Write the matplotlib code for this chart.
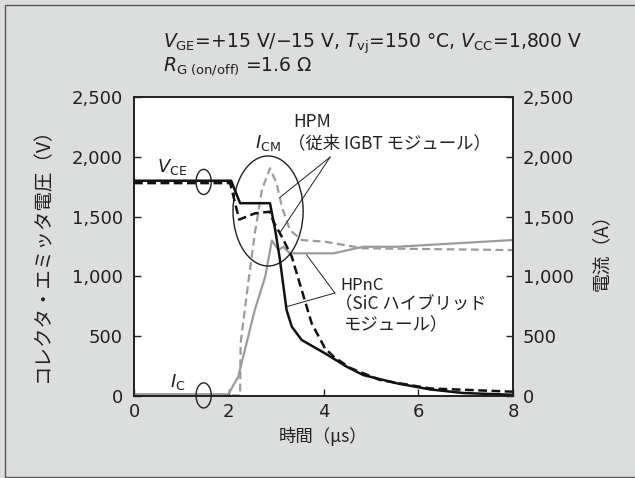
import numpy as np
import matplotlib
matplotlib.use('Agg')
import matplotlib.pyplot as plt
from matplotlib.patches import Ellipse, Arc, Rectangle
from matplotlib.ticker import FuncFormatter

plt.rcParams['font.family'] = ['DejaVu Sans', 'Noto Sans CJK JP']
plt.rcParams['mathtext.fontset'] = 'dejavusans'

# ── data ──────────────────────────────────────────────────────────
# V_CE, HPnC (SiC hybrid) - solid black
t_vce_hpnc = [0, 2.05, 2.24, 2.87, 2.98, 3.08, 3.22, 3.33, 3.54, 4.03, 4.49, 4.84, 5.55, 6.25, 6.95, 8.0]
vce_hpnc = [1800, 1800, 1612, 1612, 1390, 1140, 720, 580, 468, 357, 245, 175, 106, 55, 25, 10]
# V_CE, HPM (conventional IGBT) - dashed black
t_vce_hpm = [0, 2.03, 2.22, 2.55, 2.87, 2.94, 3.12, 3.33, 3.54, 3.75, 4.03, 4.21, 4.56, 5.19, 6.25, 8.0]
vce_hpm = [1780, 1780, 1475, 1527, 1541, 1460, 1332, 1165, 886, 608, 400, 330, 235, 134, 63, 36]
# I_C, HPnC - solid gray
t_ic_hpnc = [0, 1.99, 2.20, 2.34, 2.55, 2.77, 2.91, 3.05, 3.15, 3.29, 4.21, 4.84, 5.55, 8.0]
ic_hpnc = [15, 15, 161, 385, 719, 998, 1300, 1220, 1248, 1193, 1193, 1248, 1248, 1304]
# I_C, HPM - dashed gray
t_ic_hpm = [0, 2.24, 2.25, 2.41, 2.55, 2.70, 2.87, 3.01, 3.12, 3.29, 3.54, 4.03, 4.84, 8.0]
ic_hpm = [5, 5, 440, 942, 1360, 1722, 1904, 1778, 1583, 1388, 1304, 1290, 1235, 1220]

x_ticks = [0, 2, 4, 6, 8]
y_ticks = [0, 500, 1000, 1500, 2000, 2500]

BG = '#dcdddd'
TXT = '#231f20'
GRAY = '#9b9b9b'

fig = plt.figure(figsize=(6.35, 4.78), dpi=100, facecolor=BG)
fig.patches.append(Rectangle((5 / 635, 1 / 478), 1.0, 472 / 478, transform=fig.transFigure,
                             fill=False, edgecolor='#555555', linewidth=1.0))

ax2 = fig.add_axes([134 / 635, 82 / 478, 379 / 635, 299 / 478])
ax = ax2.twinx()
ax2.set_zorder(1)
ax.set_zorder(2)
ax.patch.set_visible(False)
ax2.set_facecolor('white')

ax2.plot(t_ic_hpnc, ic_hpnc, color=GRAY, lw=1.6, solid_joinstyle='round')
ax2.plot(t_ic_hpm, ic_hpm, color=GRAY, lw=1.6, dashes=(3.5, 2.0))
ax.plot(t_vce_hpnc, vce_hpnc, color='#111111', lw=1.8, solid_joinstyle='round')
ax.plot(t_vce_hpm, vce_hpm, color='#111111', lw=1.8, dashes=(3.5, 1.8))

fmt = FuncFormatter(lambda v, p: f'{int(v):,}')
for a in (ax, ax2):
    a.set_xlim(0, 8)
    a.set_ylim(0, 2500)
    a.set_yticks(y_ticks)
    a.yaxis.set_major_formatter(fmt)
    for s in a.spines.values():
        s.set_linewidth(1.2)
        s.set_color('#231f20')
ax2.set_xticks(x_ticks)
ax2.tick_params(axis='x', direction='in', length=5, width=1, pad=5, labelsize=13, colors=TXT)
ax2.tick_params(axis='y', direction='in', length=5, width=1, pad=7, labelsize=13, colors=TXT,
                left=False, labelleft=False, right=True, labelright=True)
ax.tick_params(axis='y', direction='in', length=5, width=1, pad=8, labelsize=13, colors=TXT,
               left=True, labelleft=True, right=False, labelright=False)

jp = ['Noto Sans CJK JP', 'DejaVu Sans']

# axis labels
fig.text(43 / 635, 1 - 250 / 478, 'コレクタ・エミッタ電圧（V）', rotation=90, ha='center', va='center',
         fontsize=14, color=TXT, family=jp)
fig.text(601 / 635, 1 - 248 / 478, '電流（A）', rotation=90, ha='center', va='center',
         fontsize=13.5, color=TXT, family=jp)
fig.text(323 / 635, 1 - 437 / 478, '時間（μs）', ha='center', va='center',
         fontsize=12.5, color=TXT, family=jp)

# conditions
fig.text(163 / 635, 1 - 44 / 478,
         r'$V_{\mathrm{GE}}$=+15 V/−15 V, $T_{\mathrm{vj}}$=150 °C, $V_{\mathrm{CC}}$=1,800 V',
         ha='left', va='center', fontsize=13.5, color=TXT)
fig.text(163 / 635, 1 - 67 / 478, r'$R_{\mathrm{G\ (on/off)}}$ =1.6 Ω',
         ha='left', va='center', fontsize=13.5, color=TXT)

# annotations (data coordinates)
ax.text(0.80, 1915, r'$V_{\mathrm{CE}}$', ha='center', va='center', fontsize=13, color=TXT)
ax.text(0.93, 115, r'$I_{\mathrm{C}}$', ha='center', va='center', fontsize=13, color=TXT)
ax.text(2.83, 2115, r'$I_{\mathrm{CM}}$', ha='center', va='center', fontsize=13, color=TXT)
ax.add_patch(Arc((1.47, 1790), 0.32, 210, theta1=-130, theta2=130, color=TXT, lw=1.0, clip_on=False))
ax.add_patch(Arc((1.47, 5), 0.32, 210, theta1=-130, theta2=130, color=TXT, lw=1.0, clip_on=False))
ax.add_patch(Ellipse((2.83, 1547), 1.48, 920, fill=False, edgecolor=TXT, lw=1.0))

ax.text(3.36, 2291, 'HPM', ha='left', va='center', fontsize=12.5, color=TXT, family=jp)
ax.text(3.25, 2115, '（従来 IGBT モジュール）', ha='left', va='center', fontsize=12.5, color=TXT, family=jp)
ax.plot([4.14, 3.08], [1998, 1660], color=TXT, lw=0.7)
ax.plot([4.14, 3.08], [1998, 1365], color=TXT, lw=0.7)

ax.text(4.35, 920, 'HPnC', ha='left', va='center', fontsize=12, color=TXT, family=jp)
ax.text(4.24, 770, '（SiC ハイブリッド', ha='left', va='center', fontsize=12.5, color=TXT, family=jp)
ax.text(4.42, 594, 'モジュール）', ha='left', va='center', fontsize=12.5, color=TXT, family=jp)
ax.plot([4.24, 3.645], [861, 1179], color=TXT, lw=0.7)
ax.plot([4.24, 3.22], [861, 747], color=TXT, lw=0.7)

fig.savefig('out.png', dpi=100, facecolor=BG)
